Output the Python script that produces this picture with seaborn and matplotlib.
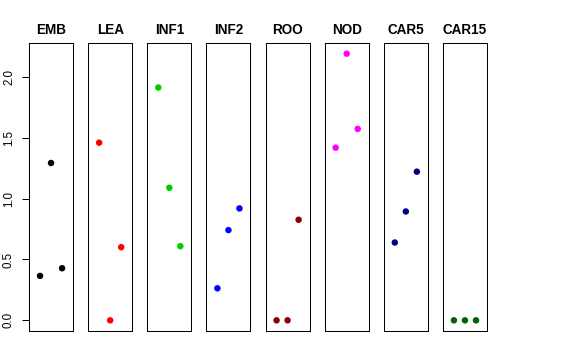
import numpy as np
import pandas as pd
import seaborn as sns
import matplotlib.pyplot as plt

sns.set_style("white")
plt.rcParams['font.family'] = ['Liberation Sans', 'DejaVu Sans']
plt.rcParams['text.color'] = 'black'
plt.rcParams['axes.labelcolor'] = 'black'
plt.rcParams['ytick.color'] = 'black'

# tissues, one panel each
tissues = ["EMB", "LEA", "INF1", "INF2", "ROO", "NOD", "CAR5", "CAR15"]
colors = ["black", "red", "#00CD00", "blue", "#8B0000", "magenta", "#000080", "#006400"]

# three replicates per tissue
emb = [0.365, 1.292, 0.428]
lea = [1.459, 0.0, 0.601]
inf1 = [1.912, 1.089, 0.609]
inf2 = [0.263, 0.741, 0.919]
roo = [0.0, 0.0, 0.826]
nod = [1.418, 2.19, 1.572]
car5 = [0.639, 0.894, 1.221]
car15 = [0.0, 0.0, 0.0]
values = [emb, lea, inf1, inf2, roo, nod, car5, car15]
replicate = [1, 2, 3]

fig, axes = plt.subplots(1, 8, figsize=(8, 5), dpi=72, sharey=True)
fig.subplots_adjust(left=29/576, right=487/576, top=1-43/360, bottom=1-331/360,
                    wspace=15/44)

for ax, name, col, vals in zip(axes, tissues, colors, values):
    df = pd.DataFrame({"rep": replicate, "expr": vals})
    sns.scatterplot(data=df, x="rep", y="expr", color=col, s=42,
                    edgecolor="none", ax=ax)
    ax.set_xlim(0, 4)
    ax.set_ylim(-0.0876, 2.2776)
    ax.set_xticks([])
    ax.set_xlabel("")
    ax.set_ylabel("")
    ax.set_title(name, fontsize=13.5, fontweight="bold", pad=8.5, color="black")
    for sp in ax.spines.values():
        sp.set_visible(True)
        sp.set_color("black")
        sp.set_linewidth(1)

axes[0].set_yticks([0.0, 0.5, 1.0, 1.5, 2.0])
axes[0].set_yticklabels(["0.0", "0.5", "1.0", "1.5", "2.0"], rotation=90, va="center")
axes[0].tick_params(axis="y", left=True, length=7, width=1, pad=7, labelsize=11.5,
                    color="black", labelcolor="black")
for ax in axes[1:]:
    ax.tick_params(axis="y", left=False, labelleft=False)

fig.savefig("out.png", dpi=72)
